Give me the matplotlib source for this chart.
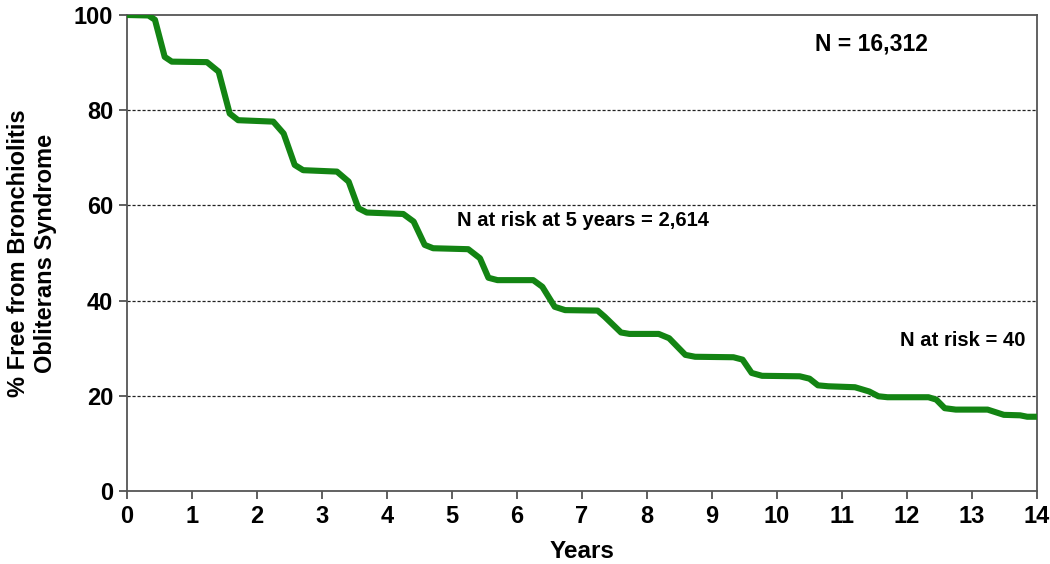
import matplotlib
matplotlib.use("Agg")
import matplotlib.pyplot as plt

plt.rcParams['font.family'] = ['Liberation Sans', 'DejaVu Sans']

years = [0, 0.33, 0.43, 0.58, 0.69, 1.23, 1.41, 1.58, 1.71, 2.25, 2.41, 2.58, 2.71, 3.23,
         3.41, 3.56, 3.69, 4.25, 4.41, 4.58, 4.71, 5.25, 5.43, 5.56, 5.7, 6.25, 6.39, 6.58,
         6.74, 7.24, 7.35, 7.6, 7.73, 8.18, 8.34, 8.59, 8.74, 9.33, 9.47, 9.61, 9.77, 10.35,
         10.5, 10.63, 10.79, 11.2, 11.42, 11.56, 11.7, 12.33, 12.45, 12.58, 12.75, 13.24,
         13.49, 13.74, 13.85, 14.0]
free = [100, 99.9, 99.0, 91.2, 90.2, 90.1, 88.1, 79.3, 77.9, 77.6, 75.1, 68.5, 67.4, 67.1,
        65.0, 59.4, 58.5, 58.2, 56.6, 51.7, 51.0, 50.8, 48.9, 44.8, 44.3, 44.3, 42.9, 38.7,
        38.0, 37.9, 36.6, 33.3, 33.0, 33.0, 32.1, 28.6, 28.2, 28.1, 27.6, 24.8, 24.2, 24.1,
        23.6, 22.2, 22.0, 21.8, 20.9, 19.9, 19.7, 19.7, 19.2, 17.4, 17.1, 17.1,
        16.0, 15.9, 15.6, 15.6]

xticks = list(range(0, 15))
yticks = [0, 20, 40, 60, 80, 100]
grid_y = [20, 40, 60, 80]

fig = plt.figure(figsize=(10.5, 5.64), dpi=100)
ax = fig.add_axes([127/1050, 1 - 491/564, (1037 - 127)/1050, (491 - 15)/564])

for g in grid_y:
    ax.axhline(g, color='#222222', lw=0.9, ls=(0, (2.5, 1.5)), zorder=1)

ax.plot(years, free, color='#138413', lw=4.4, solid_joinstyle='round',
        solid_capstyle='butt', zorder=3)

ax.set_xlim(0, 14)
ax.set_ylim(0, 100)
ax.set_xticks(xticks)
ax.set_yticks(yticks)
ax.tick_params(axis='both', direction='out', length=6, width=1.2, color='#444444',
               labelsize=17, pad=4)
for lab in ax.get_xticklabels() + ax.get_yticklabels():
    lab.set_fontweight('bold')

for s in ax.spines.values():
    s.set_color('#555555')
    s.set_linewidth(1.3)

ax.set_xlabel('Years', fontsize=17.5, fontweight='bold', labelpad=9)
ax.set_ylabel('% Free from Bronchiolitis\nObliterans Syndrome', fontsize=17,
              fontweight='bold', labelpad=12, linespacing=1.2)

ax.text(11.45, 93.9, 'N = 16,312', fontsize=16.5, fontweight='bold', ha='center', va='center')
ax.text(7.02, 56.9, 'N at risk at 5 years = 2,614', fontsize=14.5, fontweight='bold',
        ha='center', va='center')
ax.text(12.85, 31.7, 'N at risk = 40', fontsize=14.6, fontweight='bold', ha='center', va='center')

fig.savefig('out.png', dpi=100)
